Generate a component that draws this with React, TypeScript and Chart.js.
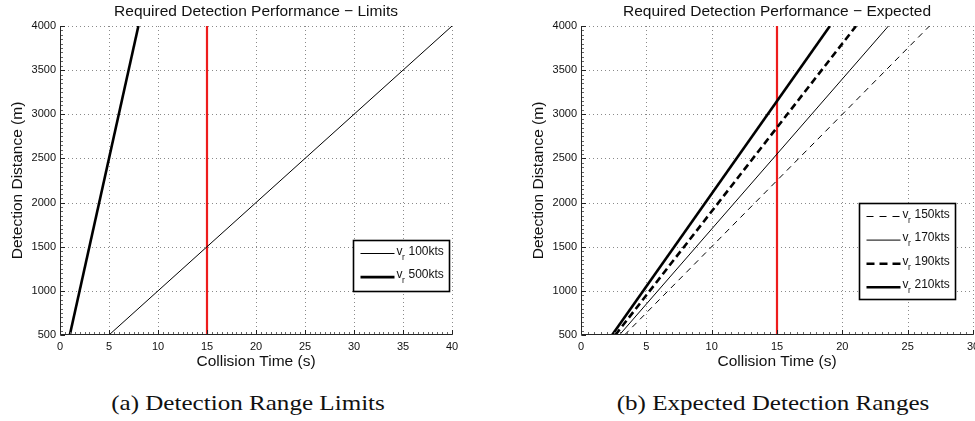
import React, { useEffect, useRef } from "react";
import { Chart, registerables } from "chart.js";

Chart.register(...registerables);

const SANS = "'Liberation Sans', Arial, Helvetica, sans-serif";
const SERIF = "'Liberation Serif', 'Times New Roman', serif";

// ---------- shared ----------
const distTicks = [500, 1000, 1500, 2000, 2500, 3000, 3500, 4000];
const distEnds = [500, 4000];
const redLineTimes = [15, 15];
const redLineDists = [500, 4000];

// ---------- panel (a): limits ----------
const limitsTitle = "Required Detection Performance \u2212 Limits";
const limitsTimeTicks = [0, 5, 10, 15, 20, 25, 30, 35, 40];
const limitsLabels = ["100kts", "500kts"];
const limitsTimes100 = [5, 40];
const limitsTimes500 = [1, 8];

// ---------- panel (b): expected ----------
const expectedTitle = "Required Detection Performance \u2212 Expected";
const expectedTimeTicks = [0, 5, 10, 15, 20, 25, 30];
const expectedLabels = ["150kts", "170kts", "190kts", "210kts"];
const expectedTimes150 = [3.33, 26.67];
const expectedTimes170 = [2.94, 23.53];
const expectedTimes190 = [2.63, 21.05];
const expectedTimes210 = [2.38, 19.05];

const captionA = "(a) Detection Range Limits";
const captionB = "(b) Expected Detection Ranges";

type Series = {
  label: string | null;
  times: number[];
  dists: number[];
  width: number;
  dash: number[];
  legendDash?: number[];
  color: string;
};

const THIN = 1;
const THICK = 2.6;

const limitsSeries: Series[] = [
  { label: limitsLabels[0], times: limitsTimes100, dists: distEnds, width: THIN, dash: [], color: "#000" },
  { label: limitsLabels[1], times: limitsTimes500, dists: distEnds, width: THICK, dash: [], color: "#000" },
  { label: null, times: redLineTimes, dists: redLineDists, width: 2.2, dash: [], color: "#ee1c1c" },
];

const expectedSeries: Series[] = [
  { label: expectedLabels[0], times: expectedTimes150, dists: distEnds, width: THIN, dash: [6, 5], legendDash: [7, 6], color: "#000" },
  { label: expectedLabels[1], times: expectedTimes170, dists: distEnds, width: THIN, dash: [], color: "#000" },
  { label: expectedLabels[2], times: expectedTimes190, dists: distEnds, width: THICK, dash: [7, 4], legendDash: [8, 5], color: "#000" },
  { label: expectedLabels[3], times: expectedTimes210, dists: distEnds, width: THICK, dash: [], color: "#000" },
  { label: null, times: redLineTimes, dists: redLineDists, width: 2.2, dash: [], color: "#ee1c1c" },
];

type PanelCfg = {
  title: string;
  xMax: number;
  xTicks: number[];
  yTicks: number[];
  xMinorStep: number;
  yMinorStep: number;
  series: Series[];
  width: number;
  height: number;
  yAxisWidth: number;
  rightPad: number;
  legend: { rightInset: number; topInset: number; w: number; h: number };
};

function makePlugin(cfg: PanelCfg) {
  return {
    id: "panelDecor",
    beforeDatasetsDraw(chart: any) {
      const { ctx, chartArea: a, scales } = chart;
      const x = scales.x;
      const y = scales.y;
      ctx.save();
      ctx.strokeStyle = "#8a8a8a";
      ctx.lineWidth = 1;
      ctx.setLineDash([1, 3]);
      for (const v of cfg.xTicks) {
        if (v === cfg.xTicks[0]) continue;
        const px = Math.round(x.getPixelForValue(v)) + 0.5;
        ctx.beginPath();
        ctx.moveTo(px, a.top);
        ctx.lineTo(px, a.bottom);
        ctx.stroke();
      }
      for (const v of cfg.yTicks) {
        if (v === cfg.yTicks[0]) continue;
        const py = Math.round(y.getPixelForValue(v)) + 0.5;
        ctx.beginPath();
        ctx.moveTo(a.left, py);
        ctx.lineTo(a.right, py);
        ctx.stroke();
      }
      ctx.restore();
    },
    afterDatasetsDraw(chart: any) {
      const { ctx, chartArea: a, scales } = chart;
      const x = scales.x;
      const y = scales.y;
      const ax = Math.round(a.left) + 0.5;
      const ay = Math.round(a.bottom) - 0.5;
      ctx.save();
      // minor ticks
      ctx.strokeStyle = "#666";
      ctx.lineWidth = 1;
      ctx.beginPath();
      for (let v = cfg.yTicks[0]; v <= cfg.yTicks[cfg.yTicks.length - 1]; v += cfg.yMinorStep) {
        const py = Math.round(y.getPixelForValue(v)) + 0.5;
        ctx.moveTo(ax, py);
        ctx.lineTo(ax + 2.5, py);
      }
      for (let v = 0; v <= cfg.xMax + 1e-9; v += cfg.xMinorStep) {
        const px = Math.round(x.getPixelForValue(v)) + 0.5;
        ctx.moveTo(px, ay);
        ctx.lineTo(px, ay - 2.5);
      }
      ctx.stroke();
      // major ticks
      ctx.strokeStyle = "#222";
      ctx.beginPath();
      for (const v of cfg.yTicks) {
        const py = Math.round(y.getPixelForValue(v)) + 0.5;
        ctx.moveTo(ax, py);
        ctx.lineTo(ax + 4.5, py);
      }
      for (const v of cfg.xTicks) {
        const px = Math.round(x.getPixelForValue(v)) + 0.5;
        ctx.moveTo(px, ay);
        ctx.lineTo(px, ay - 4.5);
      }
      ctx.stroke();
      // axis lines
      ctx.strokeStyle = "#262626";
      ctx.lineWidth = 1;
      ctx.beginPath();
      ctx.moveTo(ax, a.top);
      ctx.lineTo(ax, ay);
      ctx.lineTo(a.right, ay);
      ctx.stroke();

      // title
      ctx.fillStyle = "#111";
      ctx.font = `15.5px ${SANS}`;
      ctx.textAlign = "center";
      ctx.textBaseline = "alphabetic";
      ctx.fillText(cfg.title, (a.left + a.right) / 2, a.top - 10);
      // x label
      ctx.fillText("Collision Time (s)", (a.left + a.right) / 2, a.bottom + 31);
      // y label
      ctx.save();
      ctx.translate(a.left - 42, (a.top + a.bottom) / 2);
      ctx.rotate(-Math.PI / 2);
      ctx.textBaseline = "middle";
      ctx.fillText("Detection Distance (m)", 0, 0);
      ctx.restore();

      // legend
      const entries = cfg.series.filter((s) => s.label);
      const lg = cfg.legend;
      const bx = Math.round(a.right - lg.rightInset - lg.w) + 0.5;
      const by = Math.round(a.top + lg.topInset) + 0.5;
      ctx.fillStyle = "#fff";
      ctx.fillRect(bx, by, lg.w, lg.h);
      ctx.strokeStyle = "#000";
      ctx.lineWidth = 1.6;
      ctx.strokeRect(bx, by, lg.w, lg.h);
      const rowH = 23.6;
      entries.forEach((s, i) => {
        const ly = by + 13 + i * rowH;
        ctx.save();
        ctx.strokeStyle = s.color;
        ctx.lineWidth = s.width;
        ctx.setLineDash(s.legendDash || s.dash);
        ctx.beginPath();
        ctx.moveTo(bx + 7, ly);
        ctx.lineTo(bx + 41, ly);
        ctx.stroke();
        ctx.restore();
        ctx.fillStyle = "#111";
        ctx.textAlign = "left";
        ctx.textBaseline = "alphabetic";
        ctx.font = `12px ${SANS}`;
        ctx.fillText("v", bx + 43, ly + 1);
        ctx.font = `8.5px ${SANS}`;
        ctx.fillText("r", bx + 48.5, ly + 6);
        ctx.font = `12px ${SANS}`;
        ctx.fillText(s.label as string, bx + 55, ly + 1);
      });
      ctx.restore();
    },
  };
}

function Panel({ cfg, left }: { cfg: PanelCfg; left: number }) {
  const ref = useRef<HTMLCanvasElement | null>(null);
  useEffect(() => {
    if (!ref.current) return;
    const tickFont = { family: SANS, size: 11 };
    const chart = new Chart(ref.current, {
      type: "line",
      data: {
        datasets: cfg.series.map((s) => ({
          label: s.label || "",
          data: s.times.map((t, i) => ({ x: t, y: s.dists[i] })),
          borderColor: s.color,
          borderWidth: s.width,
          borderDash: s.dash,
          pointRadius: 0,
          fill: false,
          tension: 0,
        })),
      },
      options: {
        animation: false,
        responsive: false,
        devicePixelRatio: 1,
        layout: { padding: { top: 26, left: 0, right: cfg.rightPad, bottom: 0 } },
        plugins: {
          legend: { display: false },
          title: { display: false },
          tooltip: { enabled: false },
        },
        scales: {
          x: {
            type: "linear",
            min: 0,
            max: cfg.xMax,
            grid: { display: false, drawTicks: false },
            border: { display: false },
            ticks: {
              font: tickFont,
              color: "#111",
              padding: 5,
              maxRotation: 0,
              autoSkip: false,
              callback: (v: any) => String(v),
            },
            afterBuildTicks: (s: any) => {
              s.ticks = cfg.xTicks.map((v) => ({ value: v }));
            },
            afterFit: (s: any) => {
              s.height = cfg.height - 335;
              s.paddingLeft = 0;
              s.paddingRight = 0;
            },
          },
          y: {
            type: "linear",
            min: cfg.yTicks[0],
            max: cfg.yTicks[cfg.yTicks.length - 1],
            grid: { display: false, drawTicks: false },
            border: { display: false },
            ticks: {
              font: tickFont,
              color: "#111",
              padding: 4,
              autoSkip: false,
              callback: (v: any) => String(v),
            },
            afterBuildTicks: (s: any) => {
              s.ticks = cfg.yTicks.map((v) => ({ value: v }));
            },
            afterFit: (s: any) => {
              s.width = cfg.yAxisWidth;
              s.paddingTop = 0;
              s.paddingBottom = 0;
            },
          },
        },
      } as any,
      plugins: [makePlugin(cfg) as any],
    });
    return () => chart.destroy();
  }, []);
  return (
    <canvas
      ref={ref}
      width={cfg.width}
      height={cfg.height}
      style={{ position: "absolute", left, top: 0, width: cfg.width, height: cfg.height, display: "block" }}
    />
  );
}

const leftCfg: PanelCfg = {
  title: limitsTitle,
  xMax: 40,
  xTicks: limitsTimeTicks,
  yTicks: distTicks,
  xMinorStep: 0.5,
  yMinorStep: 50,
  series: limitsSeries,
  width: 490,
  height: 380,
  yAxisWidth: 60,
  rightPad: 38,
  legend: { rightInset: 3, topInset: 214, w: 96, h: 51 },
};

const rightCfg: PanelCfg = {
  title: expectedTitle,
  xMax: 30,
  xTicks: expectedTimeTicks,
  yTicks: distTicks,
  xMinorStep: 0.5,
  yMinorStep: 50,
  series: expectedSeries,
  width: 485,
  height: 380,
  yAxisWidth: 91,
  rightPad: 2,
  legend: { rightInset: 18, topInset: 177, w: 96, h: 96 },
};

function Caption({ text, cx }: { text: string; cx: number }) {
  return (
    <div
      style={{
        position: "absolute",
        left: cx,
        top: 392,
        fontFamily: SERIF,
        fontSize: 22,
        lineHeight: "22px",
        whiteSpace: "nowrap",
        color: "#111",
        transform: "translateX(-50%) scaleX(1.14)",
      }}
    >
      {text}
    </div>
  );
}

export default function App() {
  return (
    <div style={{ position: "absolute", left: 0, top: 0, width: 975, height: 421, background: "#fff", overflow: "hidden" }}>
      <Panel cfg={leftCfg} left={0} />
      <Panel cfg={rightCfg} left={490} />
      <Caption text={captionA} cx={248} />
      <Caption text={captionB} cx={773} />
    </div>
  );
}
